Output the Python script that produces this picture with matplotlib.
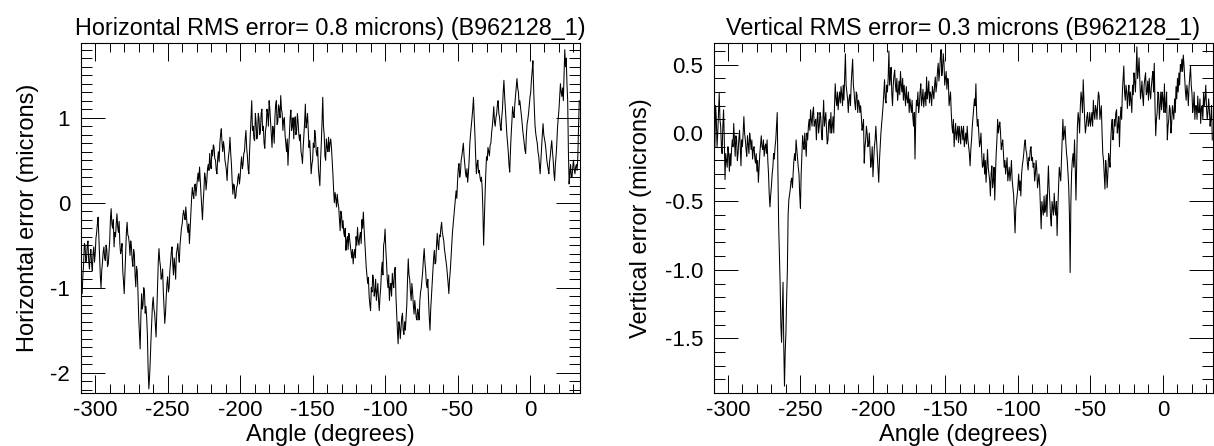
import numpy as np
import matplotlib
matplotlib.use("Agg")
import matplotlib.pyplot as plt
from matplotlib.ticker import MultipleLocator

# ---------------- data ----------------
# values at whole degrees from -309 to 34, plus the in-between half-degree readings
angle_whole = list(range(-309, 35))

horizontal_whole = [
    -1.07, -0.72, -0.50, -0.66, -0.45, -0.78, -0.55, -0.80, -0.52, -0.60,
    -0.35, -0.17, -0.62, -1.00, -0.70, -0.52, -0.68, -0.55, -0.72, -0.45,
    -0.07, -0.30, -0.52, -0.40, -0.13, -0.35, -0.48, -0.56, -0.80, -1.07,
    -0.60, -0.23, -0.40, -0.62, -0.52, -0.75, -0.60, -0.99, -0.80, -1.35,
    -1.72, -1.07, -1.20, -1.05, -1.22, -1.55, -2.19, -1.85, -1.40, -1.11,
    -1.30, -1.58, -1.00, -0.54, -0.75, -0.87, -1.05, -1.42, -1.10, -0.87,
    -1.00, -0.70, -0.52, -0.85, -0.75, -0.60, -0.48, -0.70, -0.40, -0.25,
    -0.09, -0.20, -0.17, -0.35, -0.48, -0.10, 0.18, 0.05, 0.22, 0.18,
    0.35, 0.42, 0.10, -0.20, 0.15, 0.30, 0.26, 0.45, 0.58, 0.40,
    0.55, 0.65, 0.50, 0.34, 0.60, 0.70, 0.87, 0.60, 0.65, 0.45,
    0.26, 0.55, 0.77, 0.45, 0.10, 0.20, 0.07, 0.20, 0.34, 0.30,
    0.54, 0.45, 0.60, 0.85, 0.55, 0.34, 0.80, 1.20, 0.90, 0.73,
    0.95, 0.80, 1.00, 0.85, 1.10, 0.90, 0.64, 0.90, 1.05, 1.20,
    0.95, 0.65, 0.85, 1.00, 1.20, 0.95, 1.10, 1.26, 1.05, 0.97,
    0.80, 0.60, 0.44, 0.80, 1.09, 0.90, 0.75, 1.01, 0.85, 0.95,
    0.73, 0.60, 0.46, 0.80, 1.16, 0.95, 0.85, 0.73, 0.34, 0.50,
    0.65, 0.77, 0.55, 0.40, 0.20, 0.70, 1.24, 0.80, 0.50, 0.65,
    0.77, 0.70, 0.65, 0.34, 0.00, 0.05, 0.10, -0.05, -0.33, -0.15,
    -0.21, -0.40, -0.56, -0.40, -0.36, -0.50, -0.65, -0.72, -0.55, -0.40,
    -0.29, -0.50, -0.35, -0.20, -0.11, -0.45, -0.76, -0.95, -1.10, -1.27,
    -1.05, -0.91, -1.05, -1.15, -0.95, -1.27, -1.00, -0.70, -0.50, -0.31,
    -0.70, -1.00, -1.15, -0.95, -0.83, -1.00, -0.76, -1.30, -1.66, -1.45,
    -1.47, -1.30, -1.55, -1.50, -1.20, -0.66, -0.90, -1.15, -1.05, -1.31,
    -1.25, -1.38, -1.30, -1.15, -1.00, -0.80, -0.54, -0.80, -1.00, -1.15,
    -1.50, -1.10, -0.80, -0.56, -0.70, -0.36, -0.55, -0.40, -0.23, -0.40,
    -0.55, -0.68, -0.85, -1.07, -0.80, -0.50, -0.25, -0.05, 0.14, 0.25,
    0.46, 0.35, 0.55, 0.70, 0.45, 0.30, 0.24, 0.50, 0.81, 1.00,
    1.24, 0.80, 0.34, 0.50, 0.38, 0.25, 0.18, -0.50, 0.10, 0.54,
    0.65, 0.55, 0.70, 0.90, 1.13, 0.90, 1.05, 1.20, 1.00, 0.85,
    1.10, 1.44, 1.10, 0.81, 0.60, 0.36, 0.80, 1.13, 1.00, 1.25,
    1.46, 1.30, 1.20, 1.05, 0.85, 0.70, 0.58, 0.93, 1.05, 1.24,
    1.45, 1.67, 1.10, 0.81, 0.70, 0.55, 0.34, 0.65, 0.93, 0.75,
    0.62, 0.45, 0.34, 0.55, 0.73, 0.50, 0.26, 0.55, 0.89, 1.10,
    1.40, 1.25, 1.20, 1.80, 1.70, 1.20, 0.22, 0.45, 0.30, 0.50,
    0.34, 0.45, 0.54, 1.20,
]

horizontal_half = [
    -0.85, -0.48, -0.70, -0.50, -0.68, -0.62, -0.72, -0.60, -0.70, -0.42,
    -0.25, -0.40, -0.85, -0.80, -0.58, -0.65, -0.50, -0.75, -0.58, -0.20,
    -0.25, -0.20, -0.35, -0.25, -0.28, -0.22, -0.60, -0.48, -0.92, -0.85,
    -0.35, -0.38, -0.48, -0.45, -0.68, -0.55, -0.85, -0.75, -1.05, -1.55,
    -1.35, -1.25, -1.00, -1.30, -1.35, -1.95, -2.05, -1.60, -1.20, -1.25,
    -1.45, -1.30, -0.70, -0.68, -0.90, -0.78, -1.25, -1.30, -0.95, -1.05,
    -0.80, -0.58, -0.72, -0.65, -0.90, -0.55, -0.62, -0.50, -0.30, -0.15,
    -0.15, -0.05, -0.28, -0.25, -0.30, 0.05, 0.10, 0.20, 0.08, 0.28,
    0.25, 0.25, -0.05, 0.00, 0.35, 0.15, 0.40, 0.38, 0.45, 0.62,
    0.68, 0.52, 0.38, 0.52, 0.48, 0.80, 0.70, 0.72, 0.50, 0.38,
    0.45, 0.62, 0.58, 0.25, 0.22, 0.05, 0.18, 0.30, 0.22, 0.45,
    0.40, 0.58, 0.75, 0.65, 0.40, 0.60, 1.00, 0.85, 0.75, 1.05,
    0.75, 1.05, 0.80, 1.05, 0.85, 0.70, 0.85, 1.10, 0.90, 1.10,
    0.78, 0.90, 0.70, 1.15, 0.92, 1.15, 1.00, 1.10, 0.85, 1.00,
    0.70, 0.75, 0.65, 1.00, 0.85, 1.00, 0.95, 0.80, 1.05, 0.80,
    0.80, 0.55, 0.65, 0.95, 0.88, 1.05, 0.65, 0.55, 0.45, 0.70,
    0.85, 0.60, 0.65, 0.30, 0.50, 0.95, 0.90, 0.55, 0.75, 0.60,
    0.60, 0.75, 0.50, 0.15, 0.12, -0.05, 0.00, -0.20, -0.10, -0.30,
    -0.35, -0.30, -0.45, -0.55, -0.42, -0.58, -0.55, -0.60, -0.65, -0.50,
    -0.45, -0.40, -0.48, -0.30, -0.30, -0.62, -0.85, -0.88, -1.20, -1.00,
    -0.85, -1.10, -0.90, -1.05, -1.15, -1.10, -0.80, -0.85, -0.45, -0.55,
    -0.90, -0.85, -1.00, -1.10, -0.95, -0.80, -1.10, -1.50, -1.40, -1.60,
    -1.35, -1.50, -1.40, -1.35, -0.90, -0.85, -1.05, -0.95, -1.20, -1.15,
    -1.35, -1.25, -1.38, -1.05, -0.90, -0.65, -0.70, -0.95, -0.90, -1.35,
    -1.25, -0.95, -0.65, -0.72, -0.50, -0.50, -0.38, -0.30, -0.35, -0.45,
    -0.62, -0.75, -0.95, -0.90, -0.65, -0.35, -0.15, 0.05, 0.05, 0.40,
    0.30, 0.50, 0.62, 0.55, 0.35, 0.40, 0.35, 0.70, 0.90, 1.10,
    1.00, 0.55, 0.45, 0.35, 0.30, 0.30, -0.10, -0.20, 0.35, 0.50,
    0.60, 0.68, 0.82, 1.00, 0.95, 1.00, 1.15, 1.05, 0.90, 1.00,
    1.30, 1.25, 0.95, 0.70, 0.45, 0.60, 0.95, 1.05, 1.15, 1.35,
    1.35, 1.15, 1.12, 0.95, 0.78, 0.62, 0.80, 0.98, 1.15, 1.30,
    1.55, 1.35, 0.90, 0.75, 0.60, 0.45, 0.50, 0.80, 0.80, 0.70,
    0.52, 0.40, 0.48, 0.65, 0.60, 0.35, 0.45, 0.70, 1.00, 1.25,
    1.30, 1.35, 1.50, 1.60, 1.40, 0.60, 0.35, 0.30, 0.42, 0.40,
    0.42, 0.38, 0.90,
]

vertical_whole = [
    -0.10, 0.10, 0.00, 0.29, 0.05, -0.15, 0.17, -0.34, -0.20, -0.10,
    -0.28, -0.24, -0.05, 0.07, -0.17, -0.05, -0.15, 0.02, -0.24, -0.10,
    0.12, -0.05, -0.17, -0.08, 0.00, -0.12, -0.19, -0.10, -0.22, -0.28,
    -0.36, -0.15, -0.02, -0.12, -0.17, -0.08, -0.05, -0.30, -0.54, -0.39,
    -0.25, -0.19, -0.05, 0.15, -0.68, -1.10, -1.53, -1.09, -1.85, -1.46,
    -1.00, -0.49, -0.41, -0.33, -0.29, -0.15, -0.05, -0.19, -0.30, -0.55,
    -0.15, -0.08, 0.00, -0.17, -0.05, 0.10, 0.17, 0.05, 0.19, 0.08,
    -0.05, 0.15, 0.05, 0.12, -0.05, 0.24, 0.10, 0.02, -0.05, 0.10,
    0.15, 0.05, 0.00, 0.36, 0.20, 0.17, 0.30, 0.34, 0.20, 0.24,
    0.58, 0.30, 0.15, 0.28, 0.36, 0.54, 0.30, 0.17, 0.28, 0.24,
    0.15, 0.12, 0.05, -0.22, -0.05, 0.00, -0.08, -0.12, -0.20, -0.32,
    -0.10, 0.05, -0.15, -0.36, -0.10, 0.07, 0.20, 0.39, 0.22, 0.30,
    0.60, 0.40, 0.29, 0.35, 0.46, 0.30, 0.24, 0.38, 0.45, 0.30,
    0.24, 0.28, 0.34, 0.22, 0.15, 0.20, 0.24, 0.05, -0.19, 0.24,
    0.30, 0.20, 0.36, 0.25, 0.19, 0.30, 0.41, 0.30, 0.22, 0.28,
    0.34, 0.25, 0.41, 0.35, 0.51, 0.45, 0.61, 0.48, 0.51, 0.40,
    0.32, 0.39, 0.25, 0.15, 0.00, -0.10, 0.07, 0.00, -0.07, -0.02,
    0.05, -0.05, -0.10, 0.00, 0.05, -0.10, -0.24, -0.05, 0.12, 0.25,
    0.36, 0.05, 0.00, -0.07, -0.15, -0.24, -0.30, -0.36, -0.12, -0.30,
    -0.46, -0.24, -0.35, -0.49, -0.15, 0.10, 0.05, 0.00, -0.08, -0.15,
    -0.20, -0.24, -0.35, -0.25, -0.29, -0.34, -0.45, -0.73, -0.50, -0.39,
    -0.42, -0.46, -0.24, -0.15, -0.05, -0.15, -0.27, -0.20, -0.10, -0.18,
    -0.22, -0.30, -0.27, -0.35, -0.39, -0.70, -0.55, -0.46, -0.55, -0.61,
    -0.24, -0.50, -0.68, -0.55, -0.44, -0.60, -0.75, -0.39, -0.30, -0.19,
    0.10, 0.00, -0.07, -0.20, -0.39, -1.02, -0.29, -0.15, -0.05, -0.49,
    0.05, 0.10, 0.19, 0.25, 0.39, 0.10, 0.05, 0.15, 0.08, 0.05,
    0.15, 0.24, 0.10, 0.17, 0.22, 0.27, 0.15, 0.00, -0.20, -0.41,
    -0.27, -0.30, -0.19, -0.05, 0.10, 0.00, 0.05, 0.17, 0.05, -0.10,
    0.19, 0.30, 0.49, 0.24, 0.30, 0.29, 0.20, 0.24, 0.35, 0.44,
    0.30, 0.63, 0.45, 0.39, 0.30, 0.27, 0.35, 0.44, 0.30, 0.24,
    0.30, 0.34, 0.45, 0.51, -0.02, 0.15, 0.29, 0.20, 0.17, 0.25,
    0.36, 0.20, -0.05, 0.10, 0.17, 0.07, 0.15, 0.25, 0.34, 0.40,
    0.44, 0.50, 0.54, 0.57, 0.40, 0.24, 0.30, 0.34, 0.49, 0.29,
    0.20, 0.10, 0.20, 0.27, 0.15, 0.07, 0.20, 0.29, 0.25, 0.19,
    0.15, 0.17, 0.10, -0.05,
]

vertical_half = [
    0.20, -0.10, 0.15, 0.10, -0.10, 0.05, -0.05, -0.15, -0.25, -0.15,
    -0.15, -0.12, -0.10, -0.05, -0.02, -0.20, -0.05, -0.10, -0.05, 0.00,
    0.00, -0.12, -0.02, -0.15, -0.05, -0.05, -0.12, -0.18, -0.15, -0.20,
    -0.25, -0.08, -0.10, -0.05, -0.10, -0.15, -0.20, -0.45, -0.45, -0.30,
    -0.15, -0.10, 0.05, -0.30, -0.90, -1.40, -1.30, -1.55, -1.60, -1.20,
    -0.60, -0.45, -0.35, -0.40, -0.20, -0.20, -0.12, -0.25, -0.45, -0.30,
    -0.02, -0.12, -0.08, 0.00, 0.05, 0.02, 0.10, 0.15, 0.05, 0.10,
    0.10, 0.00, 0.15, 0.00, 0.10, 0.05, 0.15, -0.08, 0.08, 0.00,
    0.00, 0.12, 0.20, 0.25, 0.30, 0.25, 0.22, 0.28, 0.35, 0.40,
    0.35, 0.25, 0.25, 0.20, 0.45, 0.35, 0.22, 0.30, 0.15, 0.22,
    0.20, 0.02, 0.10, -0.10, 0.05, -0.10, 0.00, -0.25, -0.10, -0.20,
    -0.05, -0.05, -0.25, -0.20, 0.00, 0.15, 0.30, 0.25, 0.35, 0.40,
    0.35, 0.48, 0.20, 0.42, 0.35, 0.40, 0.30, 0.28, 0.35, 0.40,
    0.35, 0.20, 0.25, 0.30, 0.25, 0.15, 0.12, 0.15, 0.10, 0.20,
    0.15, 0.30, 0.20, 0.32, 0.25, 0.20, 0.25, 0.38, 0.30, 0.20,
    0.30, 0.35, 0.30, 0.45, 0.38, 0.55, 0.42, 0.58, 0.35, 0.45,
    0.40, 0.20, 0.30, 0.05, 0.10, 0.00, -0.05, 0.05, 0.05, -0.08,
    0.02, 0.05, -0.05, -0.08, -0.05, -0.15, -0.12, 0.05, 0.20, 0.20,
    0.15, 0.10, -0.10, 0.00, -0.25, -0.15, -0.20, -0.25, -0.25, -0.35,
    -0.30, -0.40, -0.25, -0.30, -0.05, 0.00, 0.08, -0.12, -0.05, -0.25,
    -0.30, -0.18, -0.30, -0.35, -0.20, -0.40, -0.60, -0.55, -0.45, -0.30,
    -0.35, -0.30, -0.20, -0.08, -0.12, -0.22, -0.18, -0.12, -0.20, -0.25,
    -0.35, -0.20, -0.40, -0.30, -0.55, -0.50, -0.60, -0.58, -0.45, -0.40,
    -0.40, -0.62, -0.50, -0.60, -0.55, -0.50, -0.55, -0.25, -0.35, -0.05,
    -0.05, 0.05, -0.15, -0.30, -0.60, -0.50, -0.20, -0.25, -0.25, -0.20,
    0.15, 0.00, 0.30, 0.15, 0.25, 0.00, 0.12, 0.05, 0.15, 0.10,
    0.05, 0.15, 0.20, 0.10, 0.30, 0.10, 0.20, -0.15, -0.30, -0.20,
    -0.40, -0.15, -0.25, 0.05, -0.05, 0.10, 0.15, 0.00, 0.12, 0.10,
    0.10, 0.40, 0.30, 0.35, 0.18, 0.35, 0.30, 0.15, 0.28, 0.38,
    0.45, 0.40, 0.55, 0.25, 0.38, 0.20, 0.40, 0.28, 0.38, 0.40,
    0.25, 0.40, 0.30, 0.20, 0.10, 0.30, 0.10, 0.30, 0.30, 0.15,
    0.15, 0.30, 0.05, 0.20, 0.00, 0.20, 0.10, 0.15, 0.25, 0.30,
    0.35, 0.45, 0.45, 0.50, 0.30, 0.35, 0.20, 0.42, 0.35, 0.15,
    0.30, 0.20, 0.10, 0.15, 0.25, 0.18, 0.10, 0.20, 0.35, 0.10,
    0.25, 0.05, 0.20,
]

left_title = "Horizontal RMS error= 0.8 microns) (B962128_1)"
right_title = "Vertical RMS error= 0.3 microns (B962128_1)"
x_label = "Angle (degrees)"
left_ylabel = "Horizontal error (microns)"
right_ylabel = "Vertical error (microns)"
x_ticks = [-300, -250, -200, -150, -100, -50, 0]
left_yticks = [-2, -1, 0, 1]
right_yticks = [-1.5, -1.0, -0.5, 0.0, 0.5]


def interleave(whole, half):
    out = np.empty(len(whole) + len(half))
    out[0::2] = whole
    out[1::2] = half
    return out


angle_all = interleave(np.array(angle_whole, float), np.array(angle_whole[:-1], float) + 0.5)
horizontal_all = interleave(horizontal_whole, horizontal_half)
vertical_all = interleave(vertical_whole, vertical_half)

# ---------------- figure ----------------
plt.rcParams['font.family'] = ['Liberation Sans', 'DejaVu Sans']
W, H = 1214, 446
fig = plt.figure(figsize=(W / 100, H / 100), dpi=100)


def px_axes(x0, y0, x1, y1):
    return fig.add_axes([x0 / W, 1 - y1 / H, (x1 - x0) / W, (y1 - y0) / H])


axL = px_axes(81.3, 43.3, 580.0, 392.7)
axR = px_axes(714.0, 43.3, 1213.0, 392.7)


def style(ax, ylim, yticks, yfmt, ylab, title, ylab_x):
    ax.set_xlim(-309.6, 34.5)
    ax.set_ylim(*ylim)
    ax.set_xticks(x_ticks)
    ax.set_xticklabels([str(t) for t in x_ticks])
    ax.set_yticks(yticks)
    ax.set_yticklabels([yfmt.format(t) for t in yticks])
    ax.xaxis.set_minor_locator(MultipleLocator(10))
    ax.yaxis.set_minor_locator(MultipleLocator(0.1))
    ax.tick_params(which='both', direction='in', top=True, right=True,
                   width=0.7, color='black', labelsize=16)
    ax.tick_params(axis='x', which='major', length=13, pad=5.5)
    ax.tick_params(axis='x', which='minor', length=6.5)
    ax.tick_params(axis='y', which='major', length=17, pad=8)
    ax.tick_params(axis='y', which='minor', length=8)
    for s in ax.spines.values():
        s.set_linewidth(0.8)
    ax.set_title(title, fontsize=16.8, pad=6)
    ax.set_xlabel(x_label, fontsize=17)
    ax.xaxis.set_label_coords(0.5, -0.09)
    ax.set_ylabel(ylab, fontsize=17)
    ax.yaxis.set_label_coords(ylab_x, 0.5)


axL.plot(angle_all, horizontal_all, color='black', lw=0.75)
style(axL, (-2.235, 1.875), left_yticks, "{:d}", left_ylabel, left_title, -0.085)

axR.plot(angle_all, vertical_all, color='black', lw=0.75)
style(axR, (-1.898, 0.656), right_yticks, "{:.1f}", right_ylabel, right_title, -0.125)

fig.savefig("out.png", dpi=100)
